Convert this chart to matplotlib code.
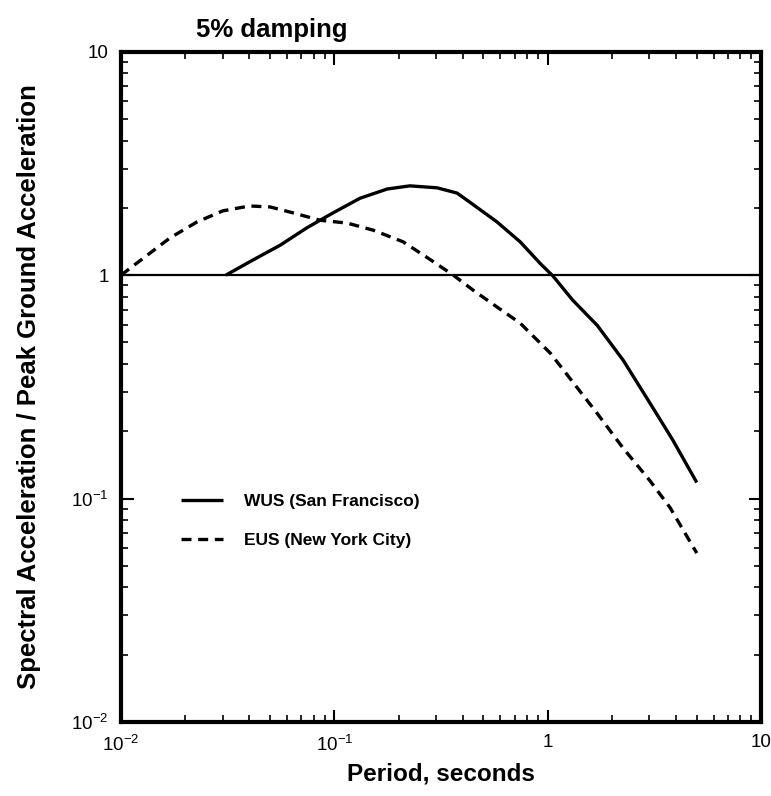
import matplotlib

matplotlib.use("Agg")
import matplotlib.pyplot as plt
from matplotlib.ticker import FixedLocator, FixedFormatter, LogLocator, NullFormatter

# WUS (San Francisco) spectral shape
wus_period = [0.031, 0.0416, 0.0556, 0.0744, 0.0986, 0.132, 0.177, 0.226, 0.303, 0.376,
              0.432, 0.579, 0.743, 0.921, 1.06, 1.31, 1.71, 2.26, 3.02, 3.87, 5.0]
wus_ratio = [1.0, 1.17, 1.36, 1.63, 1.90, 2.21, 2.43, 2.51, 2.46, 2.33,
             2.12, 1.73, 1.41, 1.13, 0.99, 0.773, 0.595, 0.416, 0.267, 0.182, 0.118]

# EUS (New York City)
eus_period = [0.01, 0.0127, 0.017, 0.0227, 0.030, 0.040, 0.050, 0.064, 0.086, 0.115,
              0.152, 0.21, 0.272, 0.361, 0.447, 0.579, 0.743, 1.03, 1.37, 1.71,
              2.26, 3.02, 3.75, 5.0]
eus_ratio = [1.0, 1.19, 1.47, 1.73, 1.94, 2.04, 2.02, 1.90, 1.76, 1.71,
             1.59, 1.41, 1.20, 1.00, 0.857, 0.72, 0.61, 0.447, 0.315, 0.24,
             0.168, 0.12, 0.091, 0.057]

decades = [0.01, 0.1, 1, 10]
decade_labels = [r"$\mathregular{10^{-2}}$", r"$\mathregular{10^{-1}}$", "1", "10"]

plt.rcParams["font.family"] = ["Liberation Sans", "DejaVu Sans"]
plt.rcParams["mathtext.fontset"] = "custom"
plt.rcParams["mathtext.rm"] = "Liberation Sans"

fig = plt.figure(figsize=(7.71, 7.96), dpi=100)
ax = fig.add_axes([0.157, 0.093, 0.830, 0.842])

ax.axhline(1.0, color="black", lw=1.6)
ax.plot(wus_period, wus_ratio, color="black", lw=2.4, solid_capstyle="butt",
        solid_joinstyle="round", label="WUS (San Francisco)")
ax.plot(eus_period, eus_ratio, color="black", lw=2.4, linestyle=(0, (3, 2)),
        label="EUS (New York City)")

ax.set_xscale("log")
ax.set_yscale("log")
ax.set_xlim(0.01, 10)
ax.set_ylim(0.01, 10)

for axis in (ax.xaxis, ax.yaxis):
    axis.set_major_locator(FixedLocator(decades))
    axis.set_major_formatter(FixedFormatter(decade_labels))
    axis.set_minor_locator(LogLocator(base=10, subs=range(2, 10), numticks=20))
    axis.set_minor_formatter(NullFormatter())

ax.tick_params(which="both", direction="in", top=True, right=True, labelsize=13.5)
ax.tick_params(which="major", length=9, width=1.5, pad=9)
ax.tick_params(which="minor", length=5, width=1.2)
for spine in ax.spines.values():
    spine.set_linewidth(3)

ax.set_xlabel("Period, seconds", fontsize=17.5, fontweight="bold", labelpad=6)
ax.set_ylabel("Spectral Acceleration / Peak Ground Acceleration", fontsize=18.5,
              fontweight="bold", labelpad=22)
fig.text(0.353, 0.962, "5% damping", fontsize=18.5, fontweight="bold", ha="center", va="center")

leg = ax.legend(loc="lower left", bbox_to_anchor=(0.07, 0.236), frameon=False,
                prop={"size": 12.5, "weight": "bold"},
                handlelength=2.4, handletextpad=1.2, labelspacing=1.4)

fig.savefig("out.png", dpi=100)
